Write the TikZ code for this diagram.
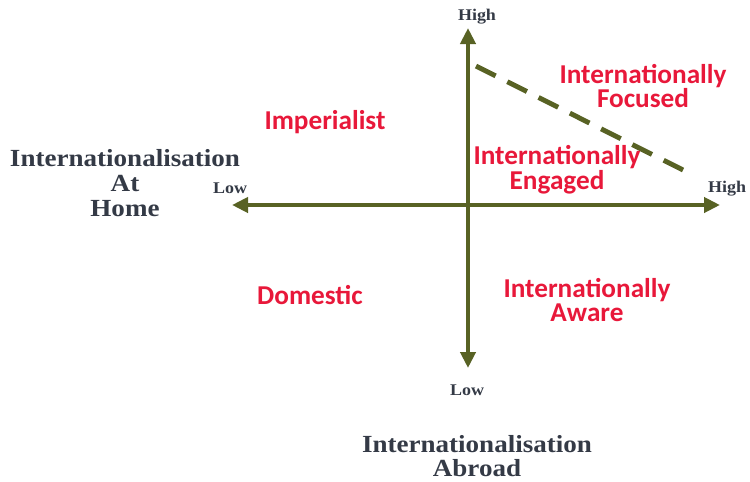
\documentclass[tikz,border=0pt]{standalone}
\usepackage{fontspec}
\setmainfont{Liberation Serif}
\newfontfamily\titlefont[FakeStretch=1.1]{Liberation Serif}
\newfontfamily\regionfont{Carlito}
\usetikzlibrary{arrows.meta}

\begin{document}
\begin{tikzpicture}
		[x=0.02cm,y=-0.02cm,line cap=butt,
		%Styles
		axis line/.style={line width=2.3pt,draw=axiscolor,{Triangle[length=0.32cm,width=0.3cm]}-{Triangle[length=0.32cm,width=0.3cm]}},
		border line/.style={line width=2.8pt,draw=axiscolor,dash pattern=on 0.44cm off 0.26cm},
		region text/.style={text=regioncolor,font=\regionfont\bfseries\fontsize{15.5}{14.2}\selectfont,align=center,inner sep=0pt},
		title text/.style={text=titlecolor,font=\titlefont\bfseries\fontsize{14}{14}\selectfont,align=center,inner sep=0pt},
		end text/.style={text=titlecolor,font=\titlefont\bfseries\fontsize{9.3}{9}\selectfont,inner sep=0pt}
		]
		
		%Colors
		\definecolor{axiscolor}{RGB}{88,98,36}
		\definecolor{regioncolor}{RGB}{232,24,58}
		\definecolor{titlecolor}{RGB}{52,58,70}
		
		\useasboundingbox (0,0) rectangle (750,481);
		
		%The graphic
		\coordinate (w) at (232,205);
		\coordinate (e) at (720,205);
		\coordinate (n) at (468,28);
		\coordinate (s) at (468,368);
		\coordinate (d1) at (476,66);
		\coordinate (d2) at (683,170);
		
		\draw[axis line] (w) -- (e);
		\draw[axis line] (n) -- (s);
		\draw[border line] (d1) -- (d2);
		
		\node[end text] (highy) at (477,17) {High};
		\node[end text] (lowy) at (467,390) {Low};
		\node[end text] (lowx) at (230,188) {Low};
		\node[end text] (highx) at (727,189) {High};
		
		\node[title text] (home) at (125,183) {Internationalisation\\At\\Home};
		\node[title text] (abroad) at (477,456) {Internationalisation\\Abroad};
		
		\node[region text] (imperial) at (325,122) {Imperialist};
		\node[region text] (focused) at (643,86) {Internationally\\Focused};
		\node[region text] (engaged) at (557,170) {Internationally\\Engaged};
		\node[region text] (domestic) at (310,295) {Domestic};
		\node[region text] (aware) at (587,300) {Internationally\\Aware};
	\end{tikzpicture}
\end{document}
